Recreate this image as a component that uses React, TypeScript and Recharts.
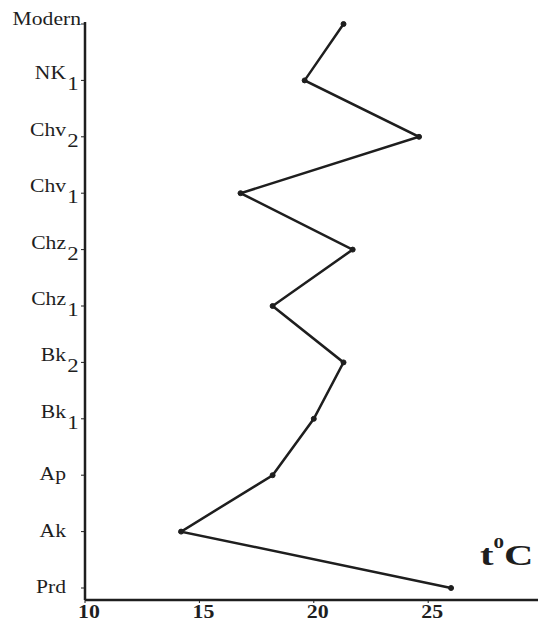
import { LineChart, Line, XAxis, YAxis } from "recharts"

const periods = ["Modern", "NK1", "Chv2", "Chv1", "Chz2", "Chz1", "Bk2", "Bk1", "Ap", "Ak", "Prd"]
const temperatures = [21.3, 19.6, 24.6, 16.8, 21.7, 18.2, 21.3, 20.0, 18.2, 14.2, 26.0]
const xTicks = [10, 15, 20, 25]

const data = periods.map((period, i) => ({ period, temp: temperatures[i] }))

const ink = "#1e1e1e"
const serif = "'Liberation Serif', 'Times New Roman', Times, serif"

function PeriodTick(props: any) {
  const { x, y, payload } = props
  const value: string = payload.value
  const m = /^(.*?)(\d)$/.exec(value)
  const main = m ? m[1] : value
  const sub = m ? m[2] : null
  const isModern = value === "Modern"
  const right = isModern ? x + 2 : x - 13
  const base = isModern ? 1 : sub ? -1 : 5
  return (
    <g transform={`translate(${right},${y}) scale(1.2,1)`}>
      <text textAnchor="end" y={base} fontFamily={serif} fontSize={18} fill={ink}>
        {main}
      </text>
      {sub && (
        <text x={1} y={10} fontFamily={serif} fontSize={19} fill={ink}>
          {sub}
        </text>
      )}
    </g>
  )
}

function TempTick(props: any) {
  const { x, y, payload } = props
  return (
    <g transform={`translate(${x + 4},${y + 13}) scale(1.15,1)`}>
      <text textAnchor="middle" fontFamily={serif} fontSize={19} fontWeight="bold" fill={ink}>
        {payload.value}
      </text>
    </g>
  )
}

function UnitLabel(props: any) {
  const vb = props.viewBox || { x: 85, y: 600, width: 453 }
  const lx = vb.x + vb.width - 58
  const ly = vb.y - 35
  return (
    <g transform={`translate(${lx},${ly}) scale(1.4,1)`}>
      <text fontFamily={serif} fontWeight="bold" fontSize={29} fill={ink}>
        t
        <tspan fontSize={15} dy={-17}>0</tspan>
        <tspan fontSize={29} dy={17}>C</tspan>
      </text>
    </g>
  )
}

export default function App() {
  return (
    <div style={{ position: "absolute", left: 0, top: 0, background: "#fff" }}>
      <LineChart
        width={538}
        height={623}
        data={data}
        layout="vertical"
        margin={{ top: 22, right: 0, bottom: 0, left: 0 }}
      >
        <XAxis
          type="number"
          dataKey="temp"
          domain={[10, 29.8]}
          ticks={xTicks}
          allowDataOverflow
          height={23}
          axisLine={{ stroke: ink, strokeWidth: 2.5 }}
          tickLine={{ stroke: ink, strokeWidth: 1 }}
          tickSize={3}
          tick={<TempTick />}
          label={<UnitLabel />}
        />
        <YAxis
          type="category"
          dataKey="period"
          scale="point"
          width={85}
          padding={{ top: 2, bottom: 12 }}
          interval={0}
          axisLine={{ stroke: ink, strokeWidth: 2.5 }}
          tickLine={{ stroke: ink, strokeWidth: 1 }}
          tickSize={4}
          tick={<PeriodTick />}
        />
        <Line
          type="linear"
          dataKey="temp"
          stroke={ink}
          strokeWidth={2.5}
          dot={{ r: 2.5, fill: ink, stroke: ink, strokeWidth: 1 }}
          isAnimationActive={false}
        />
      </LineChart>
    </div>
  )
}
